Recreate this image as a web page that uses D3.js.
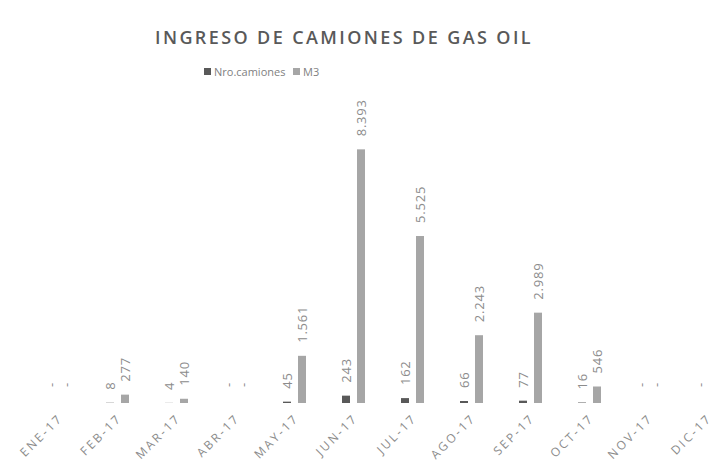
<!DOCTYPE html>
<html>
<head>
<meta charset="utf-8">
<script src="https://cdn.jsdelivr.net/npm/d3@7"></script>
<style>
  body { margin: 0; background: #fff; }
  text { font-family: "Open Sans", "DejaVu Sans", sans-serif; }
</style>
</head>
<body>
<div id="chart"></div>
<script>
const months = ['ENE-17','FEB-17','MAR-17','ABR-17','MAY-17','JUN-17','JUL-17','AGO-17','SEP-17','OCT-17','NOV-17','DIC-17']
const series = ['Nro.camiones', 'M3']
const camiones = [0, 8, 4, 0, 45, 243, 162, 66, 77, 16, 0, 0]
const m3 = [0, 277, 140, 0, 1561, 8393, 5525, 2243, 2989, 546, 0, 0]

const width = 710
const height = 468
const colors = { 'Nro.camiones': '#595959', 'M3': '#a6a6a6' }

// formato español: punto de miles
const es = d3.formatLocale({ decimal: ',', thousands: '.', grouping: [3], currency: ['', '€'] })
const fmt = v => v === 0 ? '-' : es.format(',d')(v)

const data = months.map((m, i) => ({ month: m, values: [
  { key: 'Nro.camiones', value: camiones[i] },
  { key: 'M3', value: m3[i] }
] }))

const svg = d3.select('#chart').append('svg')
  .attr('width', width)
  .attr('height', height)

const x0 = d3.scaleBand().domain(months).range([29, 29 + 12 * 59])
const x1 = d3.scaleBand().domain(series).range([-11.5, 11.5]).paddingInner(7 / 15)
const y = d3.scaleLinear().domain([0, 9000]).range([403, 131])

// titulo
svg.append('text')
  .attr('x', 344).attr('y', 44)
  .attr('text-anchor', 'middle')
  .style('font-size', '18px')
  .style('font-weight', 600)
  .style('letter-spacing', '2.4px')
  .style('fill', '#595959')
  .text('INGRESO DE CAMIONES DE GAS OIL')

// leyenda
const legend = svg.append('g').attr('transform', 'translate(204,72)')
const lx = [0, 89]
series.forEach(function (s, i) {
  const g = legend.append('g').attr('transform', `translate(${lx[i]},0)`)
  g.append('rect').attr('x', 0).attr('y', -4).attr('width', 7).attr('height', 7).attr('fill', colors[s])
  g.append('text').attr('x', 10).attr('y', 0).attr('dy', '0.35em')
    .style('font-size', '11px').style('fill', '#7f7f7f').text(s)
})

const groups = svg.append('g').selectAll('g')
  .data(data)
  .enter()
  .append('g')
  .attr('transform', d => `translate(${x0(d.month) + x0.bandwidth() / 2},0)`)

groups.selectAll('rect')
  .data(d => d.values)
  .enter()
  .append('rect')
  .attr('x', d => x1(d.key))
  .attr('width', x1.bandwidth())
  .attr('y', d => y(d.value))
  .attr('height', d => y(0) - y(d.value))
  .attr('fill', d => colors[d.key])

groups.selectAll('text.lbl')
  .data(d => d.values)
  .enter()
  .append('text')
  .attr('class', 'lbl')
  .attr('transform', d => `translate(${x1(d.key) + x1.bandwidth() / 2},${y(d.value) - (d.value === 0 ? 16 : 13)}) rotate(-90)`)
  .attr('dy', '0.35em')
  .style('font-size', '13px')
  .style('letter-spacing', '0.8px')
  .style('fill', '#8c8c8c')
  .text(d => fmt(d.value))

// eje x, etiquetas a 45 grados
svg.append('g').selectAll('text')
  .data(months)
  .enter()
  .append('text')
  .attr('transform', d => `translate(${x0(d) + x0.bandwidth() / 2 + 5},419) rotate(-45)`)
  .attr('text-anchor', 'end')
  .style('font-size', '12px')
  .style('letter-spacing', '2.4px')
  .style('fill', '#8c8c8c')
  .text(d => d)
</script>
</body>
</html>
